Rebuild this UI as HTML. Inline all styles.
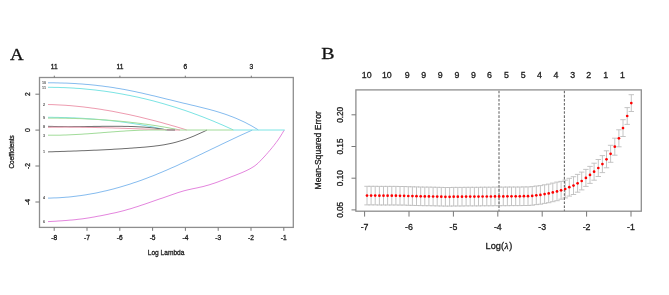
<!DOCTYPE html>
<html><head><meta charset="utf-8"><style>
html,body{margin:0;padding:0;background:#fff;}
body{width:669px;height:295px;overflow:hidden;}
svg{display:block;filter:blur(0.3px);}
text{stroke:#1a1a1a;stroke-width:0.3px;}
</style></head><body>
<svg width="669" height="295" viewBox="0 0 669 295">
<rect width="669" height="295" fill="#fff"/>
<text transform="translate(10 59.7) scale(1.08 1)" font-family="Liberation Serif, serif" font-size="17.5" fill="#111" stroke="#111" stroke-width="0.3">A</text>
<path d="M48.0 151.9 L50.0 151.8 L52.0 151.8 L54.0 151.7 L56.0 151.6 L58.0 151.6 L60.0 151.5 L62.0 151.4 L64.0 151.4 L66.0 151.3 L68.0 151.2 L70.0 151.2 L72.0 151.1 L74.0 151.0 L76.0 151.0 L78.0 150.9 L80.0 150.8 L82.0 150.7 L84.0 150.7 L86.0 150.6 L88.0 150.5 L90.0 150.4 L92.0 150.3 L94.0 150.2 L96.0 150.2 L98.0 150.1 L100.0 150.0 L102.0 149.9 L104.0 149.8 L106.0 149.7 L108.0 149.6 L110.0 149.5 L112.0 149.4 L114.0 149.2 L116.0 149.1 L118.0 149.0 L120.0 148.9 L122.0 148.8 L124.0 148.6 L126.0 148.5 L128.0 148.4 L130.0 148.2 L132.0 148.1 L134.0 147.9 L136.0 147.8 L138.0 147.6 L140.0 147.5 L142.0 147.3 L144.0 147.2 L146.0 147.0 L148.0 146.8 L150.0 146.6 L152.0 146.4 L154.0 146.2 L156.0 145.9 L158.0 145.7 L160.0 145.4 L162.0 145.1 L164.0 144.8 L166.0 144.4 L168.0 144.0 L170.0 143.6 L172.0 143.2 L174.0 142.7 L176.0 142.2 L178.0 141.6 L180.0 141.0 L182.0 140.4 L184.0 139.8 L186.0 139.1 L188.0 138.3 L190.0 137.6 L192.0 136.8 L194.0 136.0 L196.0 135.1 L198.0 134.2 L200.0 133.3 L202.0 132.4 L204.0 131.5 L206.0 130.5 L207.0 130.0" fill="none" stroke="#6e6e6e" stroke-width="1"/>
<path d="M48.0 104.5 L50.0 104.6 L52.0 104.6 L54.0 104.7 L56.0 104.8 L58.0 104.9 L60.0 105.0 L62.0 105.1 L64.0 105.2 L66.0 105.3 L68.0 105.5 L70.0 105.6 L72.0 105.8 L74.0 106.0 L76.0 106.2 L78.0 106.4 L80.0 106.6 L82.0 106.8 L84.0 107.0 L86.0 107.3 L88.0 107.5 L90.0 107.8 L92.0 108.1 L94.0 108.3 L96.0 108.6 L98.0 108.9 L100.0 109.2 L102.0 109.5 L104.0 109.9 L106.0 110.2 L108.0 110.5 L110.0 110.9 L112.0 111.2 L114.0 111.6 L116.0 112.0 L118.0 112.4 L120.0 112.8 L122.0 113.2 L124.0 113.6 L126.0 114.0 L128.0 114.4 L130.0 114.8 L132.0 115.3 L134.0 115.7 L136.0 116.2 L138.0 116.6 L140.0 117.1 L142.0 117.6 L144.0 118.1 L146.0 118.6 L148.0 119.1 L150.0 119.6 L152.0 120.1 L154.0 120.6 L156.0 121.1 L158.0 121.7 L160.0 122.2 L162.0 122.7 L164.0 123.3 L166.0 123.9 L168.0 124.4 L170.0 125.0 L172.0 125.6 L174.0 126.1 L176.0 126.7 L178.0 127.3 L180.0 127.9 L182.0 128.5 L184.0 129.1 L186.0 129.8 L186.8 130.0" fill="none" stroke="#ee9cb0" stroke-width="1"/>
<path d="M48.0 135.2 L50.0 135.2 L52.0 135.2 L54.0 135.2 L56.0 135.2 L58.0 135.2 L60.0 135.2 L62.0 135.1 L64.0 135.0 L66.0 135.0 L68.0 134.9 L70.0 134.8 L72.0 134.7 L74.0 134.6 L76.0 134.5 L78.0 134.4 L80.0 134.3 L82.0 134.2 L84.0 134.0 L86.0 133.9 L88.0 133.8 L90.0 133.6 L92.0 133.5 L94.0 133.3 L96.0 133.2 L98.0 133.0 L100.0 132.9 L102.0 132.7 L104.0 132.5 L106.0 132.4 L108.0 132.2 L110.0 132.1 L112.0 131.9 L114.0 131.8 L116.0 131.6 L118.0 131.5 L120.0 131.3 L122.0 131.2 L124.0 131.1 L126.0 130.9 L128.0 130.8 L130.0 130.7 L132.0 130.6 L134.0 130.5 L136.0 130.4 L138.0 130.3 L140.0 130.2 L142.0 130.2 L144.0 130.1 L146.0 130.1 L148.0 130.0 L150.0 130.0" fill="none" stroke="#a2dc9a" stroke-width="1"/>
<path d="M48.0 198.1 L50.0 198.1 L52.0 198.0 L54.0 197.9 L56.0 197.9 L58.0 197.8 L60.0 197.7 L62.0 197.5 L64.0 197.4 L66.0 197.2 L68.0 197.1 L70.0 196.9 L72.0 196.7 L74.0 196.4 L76.0 196.2 L78.0 195.9 L80.0 195.7 L82.0 195.4 L84.0 195.1 L86.0 194.8 L88.0 194.4 L90.0 194.1 L92.0 193.7 L94.0 193.4 L96.0 193.0 L98.0 192.6 L100.0 192.1 L102.0 191.7 L104.0 191.2 L106.0 190.8 L108.0 190.3 L110.0 189.8 L112.0 189.3 L114.0 188.8 L116.0 188.2 L118.0 187.7 L120.0 187.1 L122.0 186.5 L124.0 185.9 L126.0 185.3 L128.0 184.7 L130.0 184.1 L132.0 183.4 L134.0 182.7 L136.0 182.1 L138.0 181.4 L140.0 180.7 L142.0 180.0 L144.0 179.2 L146.0 178.5 L148.0 177.7 L150.0 176.9 L152.0 176.2 L154.0 175.4 L156.0 174.6 L158.0 173.7 L160.0 172.9 L162.0 172.1 L164.0 171.2 L166.0 170.4 L168.0 169.5 L170.0 168.6 L172.0 167.7 L174.0 166.9 L176.0 166.0 L178.0 165.1 L180.0 164.1 L182.0 163.2 L184.0 162.3 L186.0 161.4 L188.0 160.4 L190.0 159.5 L192.0 158.5 L194.0 157.6 L196.0 156.6 L198.0 155.7 L200.0 154.7 L202.0 153.8 L204.0 152.8 L206.0 151.8 L208.0 150.9 L210.0 149.9 L212.0 148.9 L214.0 148.0 L216.0 147.0 L218.0 146.1 L220.0 145.1 L222.0 144.1 L224.0 143.2 L226.0 142.2 L228.0 141.3 L230.0 140.3 L232.0 139.4 L234.0 138.4 L236.0 137.5 L238.0 136.5 L240.0 135.6 L242.0 134.7 L244.0 133.8 L246.0 132.9 L248.0 132.0 L250.0 131.1 L252.0 130.2 L252.4 130.0" fill="none" stroke="#86bcef" stroke-width="1"/>
<path d="M48.0 117.3 L50.0 117.3 L52.0 117.3 L54.0 117.4 L56.0 117.4 L58.0 117.4 L60.0 117.5 L62.0 117.5 L64.0 117.6 L66.0 117.6 L68.0 117.7 L70.0 117.8 L72.0 117.9 L74.0 117.9 L76.0 118.0 L78.0 118.1 L80.0 118.2 L82.0 118.3 L84.0 118.4 L86.0 118.6 L88.0 118.7 L90.0 118.8 L92.0 119.0 L94.0 119.1 L96.0 119.3 L98.0 119.4 L100.0 119.6 L102.0 119.8 L104.0 120.0 L106.0 120.2 L108.0 120.4 L110.0 120.6 L112.0 120.8 L114.0 121.0 L116.0 121.2 L118.0 121.5 L120.0 121.7 L122.0 122.0 L124.0 122.2 L126.0 122.5 L128.0 122.8 L130.0 123.1 L132.0 123.4 L134.0 123.7 L136.0 124.0 L138.0 124.3 L140.0 124.6 L142.0 125.0 L144.0 125.3 L146.0 125.7 L148.0 126.1 L150.0 126.4 L152.0 126.8 L154.0 127.2 L156.0 127.6 L158.0 128.1 L160.0 128.5 L162.0 128.9 L164.0 129.4 L166.0 129.8 L166.8 130.0" fill="none" stroke="#7ce4e4" stroke-width="1"/>
<path d="M48.0 221.6 L50.0 221.5 L52.0 221.4 L54.0 221.3 L56.0 221.2 L58.0 221.0 L60.0 220.9 L62.0 220.8 L64.0 220.6 L66.0 220.5 L68.0 220.3 L70.0 220.1 L72.0 220.0 L74.0 219.8 L76.0 219.6 L78.0 219.3 L80.0 219.1 L82.0 218.9 L84.0 218.6 L86.0 218.3 L88.0 218.0 L90.0 217.7 L92.0 217.3 L94.0 217.0 L96.0 216.6 L98.0 216.2 L100.0 215.9 L102.0 215.5 L104.0 215.1 L106.0 214.7 L108.0 214.3 L110.0 213.8 L112.0 213.4 L114.0 213.0 L116.0 212.6 L118.0 212.1 L120.0 211.6 L122.0 211.1 L124.0 210.6 L126.0 210.0 L128.0 209.4 L130.0 208.9 L132.0 208.3 L134.0 207.6 L136.0 207.0 L138.0 206.4 L140.0 205.7 L142.0 205.0 L144.0 204.4 L146.0 203.7 L148.0 203.0 L150.0 202.3 L152.0 201.6 L154.0 200.9 L156.0 200.2 L158.0 199.5 L160.0 198.8 L162.0 198.2 L164.0 197.5 L166.0 196.8 L168.0 196.1 L170.0 195.4 L172.0 194.7 L174.0 194.0 L176.0 193.3 L178.0 192.6 L180.0 192.0 L182.0 191.4 L184.0 190.8 L186.0 190.3 L188.0 189.8 L190.0 189.4 L192.0 188.9 L194.0 188.5 L196.0 188.1 L198.0 187.7 L200.0 187.2 L202.0 186.8 L204.0 186.3 L206.0 185.7 L208.0 185.2 L210.0 184.6 L212.0 183.9 L214.0 183.3 L216.0 182.6 L218.0 181.9 L220.0 181.1 L222.0 180.4 L224.0 179.6 L226.0 178.8 L228.0 178.1 L230.0 177.3 L232.0 176.5 L234.0 175.8 L236.0 175.0 L238.0 174.2 L240.0 173.4 L242.0 172.6 L244.0 171.7 L246.0 170.8 L248.0 169.8 L250.0 168.8 L252.0 167.6 L254.0 166.4 L256.0 164.9 L258.0 163.2 L260.0 161.2 L262.0 159.1 L264.0 157.0 L266.0 154.8 L268.0 152.5 L270.0 150.2 L272.0 147.8 L274.0 145.3 L276.0 142.7 L278.0 140.0 L280.0 137.0 L282.0 133.8 L284.0 130.4 L284.2 130.0" fill="none" stroke="#e486de" stroke-width="1"/>
<path d="M48.0 126.3 L50.0 126.4 L52.0 126.4 L54.0 126.5 L56.0 126.5 L58.0 126.6 L60.0 126.6 L62.0 126.6 L64.0 126.6 L66.0 126.6 L68.0 126.7 L70.0 126.7 L72.0 126.7 L74.0 126.6 L76.0 126.6 L78.0 126.6 L80.0 126.6 L82.0 126.6 L84.0 126.6 L86.0 126.5 L88.0 126.5 L90.0 126.5 L92.0 126.5 L94.0 126.4 L96.0 126.4 L98.0 126.4 L100.0 126.4 L102.0 126.3 L104.0 126.3 L106.0 126.3 L108.0 126.3 L110.0 126.3 L112.0 126.3 L114.0 126.3 L116.0 126.3 L118.0 126.3 L120.0 126.3 L122.0 126.3 L124.0 126.4 L126.0 126.4 L128.0 126.4 L130.0 126.5 L132.0 126.5 L134.0 126.6 L136.0 126.7 L138.0 126.8 L140.0 126.9 L142.0 127.0 L144.0 127.1 L146.0 127.3 L148.0 127.4 L150.0 127.6 L152.0 127.8 L154.0 128.0 L156.0 128.3 L158.0 128.5 L160.0 128.8 L162.0 129.1 L164.0 129.4 L166.0 129.8 L167.0 130.0" fill="none" stroke="#6e6e6e" stroke-width="1"/>
<path d="M48.0 127.3 L50.0 127.3 L52.0 127.2 L54.0 127.2 L56.0 127.2 L58.0 127.2 L60.0 127.2 L62.0 127.2 L64.0 127.1 L66.0 127.1 L68.0 127.1 L70.0 127.2 L72.0 127.2 L74.0 127.2 L76.0 127.2 L78.0 127.2 L80.0 127.2 L82.0 127.3 L84.0 127.3 L86.0 127.3 L88.0 127.4 L90.0 127.4 L92.0 127.4 L94.0 127.5 L96.0 127.5 L98.0 127.6 L100.0 127.6 L102.0 127.7 L104.0 127.7 L106.0 127.8 L108.0 127.8 L110.0 127.9 L112.0 127.9 L114.0 128.0 L116.0 128.1 L118.0 128.1 L120.0 128.2 L122.0 128.3 L124.0 128.3 L126.0 128.4 L128.0 128.5 L130.0 128.5 L132.0 128.6 L134.0 128.7 L136.0 128.7 L138.0 128.8 L140.0 128.9 L142.0 128.9 L144.0 129.0 L146.0 129.1 L148.0 129.1 L150.0 129.2 L152.0 129.3 L154.0 129.3 L156.0 129.4 L158.0 129.5 L160.0 129.5 L162.0 129.6 L164.0 129.7 L166.0 129.7 L168.0 129.8 L170.0 129.9 L172.0 129.9 L174.0 130.0 L175.0 130.0" fill="none" stroke="#ee9cb0" stroke-width="1"/>
<path d="M48.0 118.1 L50.0 118.1 L52.0 118.1 L54.0 118.1 L56.0 118.1 L58.0 118.1 L60.0 118.2 L62.0 118.2 L64.0 118.2 L66.0 118.2 L68.0 118.3 L70.0 118.3 L72.0 118.4 L74.0 118.4 L76.0 118.5 L78.0 118.6 L80.0 118.6 L82.0 118.7 L84.0 118.8 L86.0 118.9 L88.0 119.0 L90.0 119.1 L92.0 119.2 L94.0 119.3 L96.0 119.4 L98.0 119.5 L100.0 119.6 L102.0 119.8 L104.0 119.9 L106.0 120.0 L108.0 120.2 L110.0 120.3 L112.0 120.5 L114.0 120.7 L116.0 120.9 L118.0 121.0 L120.0 121.2 L122.0 121.4 L124.0 121.6 L126.0 121.8 L128.0 122.0 L130.0 122.2 L132.0 122.5 L134.0 122.7 L136.0 122.9 L138.0 123.2 L140.0 123.4 L142.0 123.7 L144.0 124.0 L146.0 124.2 L148.0 124.5 L150.0 124.8 L152.0 125.1 L154.0 125.4 L156.0 125.7 L158.0 126.0 L160.0 126.4 L162.0 126.7 L164.0 127.0 L166.0 127.4 L168.0 127.7 L170.0 128.1 L172.0 128.5 L174.0 128.8 L176.0 129.2 L178.0 129.6 L180.0 130.0" fill="none" stroke="#a2dc9a" stroke-width="1"/>
<path d="M48.0 82.8 L50.0 82.8 L52.0 82.8 L54.0 82.8 L56.0 82.9 L58.0 82.9 L60.0 83.0 L62.0 83.0 L64.0 83.1 L66.0 83.1 L68.0 83.2 L70.0 83.3 L72.0 83.4 L74.0 83.5 L76.0 83.6 L78.0 83.8 L80.0 83.9 L82.0 84.0 L84.0 84.2 L86.0 84.4 L88.0 84.5 L90.0 84.7 L92.0 84.9 L94.0 85.1 L96.0 85.3 L98.0 85.6 L100.0 85.8 L102.0 86.0 L104.0 86.3 L106.0 86.6 L108.0 86.8 L110.0 87.1 L112.0 87.4 L114.0 87.7 L116.0 88.1 L118.0 88.4 L120.0 88.7 L122.0 89.1 L124.0 89.4 L126.0 89.8 L128.0 90.2 L130.0 90.6 L132.0 91.0 L134.0 91.4 L136.0 91.8 L138.0 92.3 L140.0 92.7 L142.0 93.1 L144.0 93.6 L146.0 94.1 L148.0 94.5 L150.0 95.0 L152.0 95.5 L154.0 95.9 L156.0 96.4 L158.0 96.9 L160.0 97.4 L162.0 97.9 L164.0 98.4 L166.0 98.9 L168.0 99.4 L170.0 99.8 L172.0 100.3 L174.0 100.8 L176.0 101.3 L178.0 101.8 L180.0 102.3 L182.0 102.8 L184.0 103.3 L186.0 103.7 L188.0 104.2 L190.0 104.7 L192.0 105.2 L194.0 105.6 L196.0 106.1 L198.0 106.6 L200.0 107.1 L202.0 107.6 L204.0 108.1 L206.0 108.6 L208.0 109.1 L210.0 109.6 L212.0 110.2 L214.0 110.7 L216.0 111.3 L218.0 111.9 L220.0 112.5 L222.0 113.2 L224.0 113.8 L226.0 114.5 L228.0 115.2 L230.0 116.0 L232.0 116.7 L234.0 117.5 L236.0 118.3 L238.0 119.2 L240.0 120.1 L242.0 121.0 L244.0 121.9 L246.0 122.9 L248.0 124.0 L250.0 125.0 L252.0 126.1 L254.0 127.3 L256.0 128.5 L258.0 129.7 L258.4 130.0" fill="none" stroke="#86bcef" stroke-width="1"/>
<path d="M48.0 87.3 L50.0 87.3 L52.0 87.3 L54.0 87.4 L56.0 87.4 L58.0 87.4 L60.0 87.5 L62.0 87.6 L64.0 87.6 L66.0 87.7 L68.0 87.8 L70.0 87.9 L72.0 88.0 L74.0 88.1 L76.0 88.3 L78.0 88.4 L80.0 88.5 L82.0 88.7 L84.0 88.9 L86.0 89.1 L88.0 89.3 L90.0 89.5 L92.0 89.7 L94.0 89.9 L96.0 90.1 L98.0 90.4 L100.0 90.6 L102.0 90.9 L104.0 91.1 L106.0 91.4 L108.0 91.7 L110.0 92.0 L112.0 92.3 L114.0 92.6 L116.0 93.0 L118.0 93.3 L120.0 93.7 L122.0 94.0 L124.0 94.4 L126.0 94.8 L128.0 95.2 L130.0 95.5 L132.0 96.0 L134.0 96.4 L136.0 96.8 L138.0 97.2 L140.0 97.7 L142.0 98.2 L144.0 98.6 L146.0 99.1 L148.0 99.6 L150.0 100.1 L152.0 100.6 L154.0 101.1 L156.0 101.7 L158.0 102.2 L160.0 102.8 L162.0 103.3 L164.0 103.9 L166.0 104.5 L168.0 105.1 L170.0 105.7 L172.0 106.3 L174.0 106.9 L176.0 107.5 L178.0 108.2 L180.0 108.8 L182.0 109.5 L184.0 110.1 L186.0 110.8 L188.0 111.5 L190.0 112.2 L192.0 112.9 L194.0 113.7 L196.0 114.4 L198.0 115.1 L200.0 115.9 L202.0 116.6 L204.0 117.4 L206.0 118.2 L208.0 119.0 L210.0 119.8 L212.0 120.6 L214.0 121.4 L216.0 122.3 L218.0 123.1 L220.0 124.0 L222.0 124.8 L224.0 125.7 L226.0 126.6 L228.0 127.5 L230.0 128.4 L232.0 129.3 L233.5 130.0" fill="none" stroke="#7ce4e4" stroke-width="1"/>
<path d="M150.0 130.0H166.8" fill="none" stroke="#a2dc9a" stroke-width="1"/>
<path d="M166.8 130.0H167.0" fill="none" stroke="#7ce4e4" stroke-width="1"/>
<path d="M167.0 130.0H175.0" fill="none" stroke="#6e6e6e" stroke-width="1"/>
<path d="M175.0 130.0H180.0" fill="none" stroke="#ee9cb0" stroke-width="1"/>
<path d="M180.0 130.0H186.8" fill="none" stroke="#a2dc9a" stroke-width="1"/>
<path d="M186.8 130.0H207.0" fill="none" stroke="#a2dc9a" stroke-width="1"/>
<path d="M207.0 130.0H233.5" fill="none" stroke="#a2dc9a" stroke-width="1"/>
<path d="M233.5 130.0H252.4" fill="none" stroke="#7ce4e4" stroke-width="1"/>
<path d="M252.4 130.0H258.4" fill="none" stroke="#7ce4e4" stroke-width="1"/>
<path d="M258.4 130.0H284.2" fill="none" stroke="#7ce4e4" stroke-width="1"/>
<path d="M284.2 130.0H284.8" fill="none" stroke="#7ce4e4" stroke-width="1"/>
<rect x="39.5" y="77.5" width="253.8" height="149.9" fill="none" stroke="#8e8e8e" stroke-width="1.3"/>
<line x1="54.2" y1="227.4" x2="54.2" y2="230.8" stroke="#777" stroke-width="1"/>
<text x="54.2" y="240.2" text-anchor="middle" font-family="Liberation Sans, sans-serif" font-size="6.6" fill="#222">-8</text>
<line x1="87.0" y1="227.4" x2="87.0" y2="230.8" stroke="#777" stroke-width="1"/>
<text x="87.0" y="240.2" text-anchor="middle" font-family="Liberation Sans, sans-serif" font-size="6.6" fill="#222">-7</text>
<line x1="119.8" y1="227.4" x2="119.8" y2="230.8" stroke="#777" stroke-width="1"/>
<text x="119.8" y="240.2" text-anchor="middle" font-family="Liberation Sans, sans-serif" font-size="6.6" fill="#222">-6</text>
<line x1="152.6" y1="227.4" x2="152.6" y2="230.8" stroke="#777" stroke-width="1"/>
<text x="152.6" y="240.2" text-anchor="middle" font-family="Liberation Sans, sans-serif" font-size="6.6" fill="#222">-5</text>
<line x1="185.4" y1="227.4" x2="185.4" y2="230.8" stroke="#777" stroke-width="1"/>
<text x="185.4" y="240.2" text-anchor="middle" font-family="Liberation Sans, sans-serif" font-size="6.6" fill="#222">-4</text>
<line x1="218.2" y1="227.4" x2="218.2" y2="230.8" stroke="#777" stroke-width="1"/>
<text x="218.2" y="240.2" text-anchor="middle" font-family="Liberation Sans, sans-serif" font-size="6.6" fill="#222">-3</text>
<line x1="251.0" y1="227.4" x2="251.0" y2="230.8" stroke="#777" stroke-width="1"/>
<text x="251.0" y="240.2" text-anchor="middle" font-family="Liberation Sans, sans-serif" font-size="6.6" fill="#222">-2</text>
<line x1="283.8" y1="227.4" x2="283.8" y2="230.8" stroke="#777" stroke-width="1"/>
<text x="283.8" y="240.2" text-anchor="middle" font-family="Liberation Sans, sans-serif" font-size="6.6" fill="#222">-1</text>
<line x1="54.3" y1="75.7" x2="54.3" y2="77.5" stroke="#777" stroke-width="1"/>
<text x="54.3" y="69.2" text-anchor="middle" font-family="Liberation Sans, sans-serif" font-size="6.6" fill="#222">11</text>
<line x1="119.9" y1="75.7" x2="119.9" y2="77.5" stroke="#777" stroke-width="1"/>
<text x="119.9" y="69.2" text-anchor="middle" font-family="Liberation Sans, sans-serif" font-size="6.6" fill="#222">11</text>
<line x1="185.3" y1="75.7" x2="185.3" y2="77.5" stroke="#777" stroke-width="1"/>
<text x="185.3" y="69.2" text-anchor="middle" font-family="Liberation Sans, sans-serif" font-size="6.6" fill="#222">6</text>
<line x1="251.3" y1="75.7" x2="251.3" y2="77.5" stroke="#777" stroke-width="1"/>
<text x="251.3" y="69.2" text-anchor="middle" font-family="Liberation Sans, sans-serif" font-size="6.6" fill="#222">3</text>
<line x1="35.4" y1="94.2" x2="39.5" y2="94.2" stroke="#777" stroke-width="1"/>
<text transform="translate(29.9 94.2) rotate(-90)" text-anchor="middle" font-family="Liberation Sans, sans-serif" font-size="6.8" fill="#222">2</text>
<line x1="35.4" y1="130.1" x2="39.5" y2="130.1" stroke="#777" stroke-width="1"/>
<text transform="translate(29.9 130.1) rotate(-90)" text-anchor="middle" font-family="Liberation Sans, sans-serif" font-size="6.8" fill="#222">0</text>
<line x1="35.4" y1="166.0" x2="39.5" y2="166.0" stroke="#777" stroke-width="1"/>
<text transform="translate(29.9 166.0) rotate(-90)" text-anchor="middle" font-family="Liberation Sans, sans-serif" font-size="6.8" fill="#222">-2</text>
<line x1="35.4" y1="202.0" x2="39.5" y2="202.0" stroke="#777" stroke-width="1"/>
<text transform="translate(29.9 202.0) rotate(-90)" text-anchor="middle" font-family="Liberation Sans, sans-serif" font-size="6.8" fill="#222">-4</text>
<text x="166.1" y="254.6" text-anchor="middle" font-family="Liberation Sans, sans-serif" font-size="6.6" fill="#333">Log Lambda</text>
<text transform="translate(14.4 151.9) rotate(-90)" text-anchor="middle" font-family="Liberation Sans, sans-serif" font-size="6.4" fill="#222">Coefficients</text>
<text x="44" y="84.1" text-anchor="middle" font-family="Liberation Sans, sans-serif" font-size="3.6" font-weight="bold" fill="#444" style="stroke:none">10</text>
<text x="44" y="88.6" text-anchor="middle" font-family="Liberation Sans, sans-serif" font-size="3.6" font-weight="bold" fill="#444" style="stroke:none">11</text>
<text x="44" y="105.8" text-anchor="middle" font-family="Liberation Sans, sans-serif" font-size="3.6" font-weight="bold" fill="#444" style="stroke:none">2</text>
<text x="44" y="118.9" text-anchor="middle" font-family="Liberation Sans, sans-serif" font-size="3.6" font-weight="bold" fill="#444" style="stroke:none">9</text>
<text x="44" y="128.1" text-anchor="middle" font-family="Liberation Sans, sans-serif" font-size="3.6" font-weight="bold" fill="#444" style="stroke:none">8</text>
<text x="44" y="136.5" text-anchor="middle" font-family="Liberation Sans, sans-serif" font-size="3.6" font-weight="bold" fill="#444" style="stroke:none">3</text>
<text x="44" y="153.2" text-anchor="middle" font-family="Liberation Sans, sans-serif" font-size="3.6" font-weight="bold" fill="#444" style="stroke:none">1</text>
<text x="44" y="199.2" text-anchor="middle" font-family="Liberation Sans, sans-serif" font-size="3.6" font-weight="bold" fill="#444" style="stroke:none">4</text>
<text x="44" y="222.6" text-anchor="middle" font-family="Liberation Sans, sans-serif" font-size="3.6" font-weight="bold" fill="#444" style="stroke:none">6</text>
<text transform="translate(321.2 58.8) scale(1.17 1)" font-family="Liberation Serif, serif" font-size="17" fill="#111" stroke="#111" stroke-width="0.3">B</text>
<path d="M631.3 94.7V111.5M628.6 94.7H634.0M628.6 111.5H634.0M627.2 107.6V124.4M624.5 107.6H629.9M624.5 124.4H629.9M623.0 119.7V136.5M620.3 119.7H625.7M620.3 136.5H625.7M618.9 129.8V146.8M616.2 129.8H621.6M616.2 146.8H621.6M614.8 138.2V155.2M612.1 138.2H617.5M612.1 155.2H617.5M610.6 145.3V162.3M607.9 145.3H613.4M607.9 162.3H613.4M606.5 150.8V167.8M603.8 150.8H609.2M603.8 167.8H609.2M602.4 155.6V172.6M599.7 155.6H605.1M599.7 172.6H605.1M598.3 159.5V176.5M595.6 159.5H601.0M595.6 176.5H601.0M594.1 163.2V180.2M591.4 163.2H596.8M591.4 180.2H596.8M590.0 166.4V183.4M587.3 166.4H592.7M587.3 183.4H592.7M585.9 169.4V186.4M583.2 169.4H588.6M583.2 186.4H588.6M581.7 172.1V189.9M579.0 172.1H584.4M579.0 189.9H584.4M577.6 174.4V192.2M574.9 174.4H580.3M574.9 192.2H580.3M573.5 176.7V194.5M570.8 176.7H576.2M570.8 194.5H576.2M569.3 178.3V196.1M566.6 178.3H572.0M566.6 196.1H572.0M565.2 180.1V197.9M562.5 180.1H567.9M562.5 197.9H567.9M561.1 181.4V199.2M558.4 181.4H563.8M558.4 199.2H563.8M557.0 182.1V200.7M554.3 182.1H559.7M554.3 200.7H559.7M552.8 183.1V201.7M550.1 183.1H555.5M550.1 201.7H555.5M548.7 184.1V202.7M546.0 184.1H551.4M546.0 202.7H551.4M544.6 184.8V203.4M541.9 184.8H547.3M541.9 203.4H547.3M540.4 185.6V204.2M537.7 185.6H543.1M537.7 204.2H543.1M536.3 186.0V204.6M533.6 186.0H539.0M533.6 204.6H539.0M532.2 186.6V205.2M529.5 186.6H534.9M529.5 205.2H534.9M528.0 186.9V205.5M525.3 186.9H530.8M525.3 205.5H530.8M523.9 186.9V205.5M521.2 186.9H526.6M521.2 205.5H526.6M519.8 187.0V205.6M517.1 187.0H522.5M517.1 205.6H522.5M515.7 187.0V205.6M513.0 187.0H518.4M513.0 205.6H518.4M511.5 187.0V205.6M508.8 187.0H514.2M508.8 205.6H514.2M507.4 187.0V205.7M504.7 187.0H510.1M504.7 205.7H510.1M503.3 187.1V205.7M500.6 187.1H506.0M500.6 205.7H506.0M499.1 187.1V205.7M496.4 187.1H501.8M496.4 205.7H501.8M495.0 187.1V205.7M492.3 187.1H497.7M492.3 205.7H497.7M490.9 187.2V205.8M488.2 187.2H493.6M488.2 205.8H493.6M486.8 187.2V205.8M484.1 187.2H489.4M484.1 205.8H489.4M482.6 187.2V205.8M479.9 187.2H485.3M479.9 205.8H485.3M478.5 187.3V205.9M475.8 187.3H481.2M475.8 205.9H481.2M474.4 187.3V205.9M471.7 187.3H477.1M471.7 205.9H477.1M470.2 187.3V205.9M467.5 187.3H472.9M467.5 205.9H472.9M466.1 187.3V205.9M463.4 187.3H468.8M463.4 205.9H468.8M462.0 187.4V206.0M459.3 187.4H464.7M459.3 206.0H464.7M457.8 187.4V206.0M455.1 187.4H460.5M455.1 206.0H460.5M453.7 187.4V206.0M451.0 187.4H456.4M451.0 206.0H456.4M449.6 187.5V206.1M446.9 187.5H452.3M446.9 206.1H452.3M445.4 187.5V206.1M442.7 187.5H448.1M442.7 206.1H448.1M441.3 187.4V206.0M438.6 187.4H444.0M438.6 206.0H444.0M437.2 187.3V205.9M434.5 187.3H439.9M434.5 205.9H439.9M433.1 187.2V205.8M430.4 187.2H435.8M430.4 205.8H435.8M428.9 187.1V205.7M426.2 187.1H431.6M426.2 205.7H431.6M424.8 187.1V205.7M422.1 187.1H427.5M422.1 205.7H427.5M420.7 187.0V205.6M418.0 187.0H423.4M418.0 205.6H423.4M416.5 186.9V205.5M413.8 186.9H419.2M413.8 205.5H419.2M412.4 186.8V205.4M409.7 186.8H415.1M409.7 205.4H415.1M408.3 186.7V205.3M405.6 186.7H411.0M405.6 205.3H411.0M404.1 186.5V205.1M401.4 186.5H406.8M401.4 205.1H406.8M400.0 186.5V205.1M397.3 186.5H402.7M397.3 205.1H402.7M395.9 186.4V205.0M393.2 186.4H398.6M393.2 205.0H398.6M391.8 186.4V205.0M389.1 186.4H394.5M389.1 205.0H394.5M387.6 186.4V205.0M384.9 186.4H390.3M384.9 205.0H390.3M383.5 186.4V205.0M380.8 186.4H386.2M380.8 205.0H386.2M379.4 186.4V205.0M376.7 186.4H382.1M376.7 205.0H382.1M375.2 186.3V204.9M372.5 186.3H377.9M372.5 204.9H377.9M371.1 186.3V204.9M368.4 186.3H373.8M368.4 204.9H373.8M367.0 186.3V204.9M364.3 186.3H369.7M364.3 204.9H369.7" fill="none" stroke="#bdbdbd" stroke-width="0.9"/>
<line x1="499.0" y1="90.7" x2="499.0" y2="211.2" stroke="#6a6a6a" stroke-width="1.1" stroke-dasharray="2.6 1.5"/>
<line x1="564.4" y1="90.7" x2="564.4" y2="211.2" stroke="#6a6a6a" stroke-width="1.1" stroke-dasharray="2.6 1.5"/>
<circle cx="631.3" cy="103.1" r="1.35" fill="#f00"/>
<circle cx="627.2" cy="116.0" r="1.35" fill="#f00"/>
<circle cx="623.0" cy="128.1" r="1.35" fill="#f00"/>
<circle cx="618.9" cy="138.3" r="1.35" fill="#f00"/>
<circle cx="614.8" cy="146.7" r="1.35" fill="#f00"/>
<circle cx="610.6" cy="153.8" r="1.35" fill="#f00"/>
<circle cx="606.5" cy="159.3" r="1.35" fill="#f00"/>
<circle cx="602.4" cy="164.1" r="1.35" fill="#f00"/>
<circle cx="598.3" cy="168.0" r="1.35" fill="#f00"/>
<circle cx="594.1" cy="171.7" r="1.35" fill="#f00"/>
<circle cx="590.0" cy="174.9" r="1.35" fill="#f00"/>
<circle cx="585.9" cy="177.9" r="1.35" fill="#f00"/>
<circle cx="581.7" cy="181.0" r="1.35" fill="#f00"/>
<circle cx="577.6" cy="183.3" r="1.35" fill="#f00"/>
<circle cx="573.5" cy="185.6" r="1.35" fill="#f00"/>
<circle cx="569.3" cy="187.2" r="1.35" fill="#f00"/>
<circle cx="565.2" cy="189.0" r="1.35" fill="#f00"/>
<circle cx="561.1" cy="190.3" r="1.35" fill="#f00"/>
<circle cx="557.0" cy="191.4" r="1.35" fill="#f00"/>
<circle cx="552.8" cy="192.4" r="1.35" fill="#f00"/>
<circle cx="548.7" cy="193.4" r="1.35" fill="#f00"/>
<circle cx="544.6" cy="194.1" r="1.35" fill="#f00"/>
<circle cx="540.4" cy="194.9" r="1.35" fill="#f00"/>
<circle cx="536.3" cy="195.3" r="1.35" fill="#f00"/>
<circle cx="532.2" cy="195.9" r="1.35" fill="#f00"/>
<circle cx="528.0" cy="196.2" r="1.35" fill="#f00"/>
<circle cx="523.9" cy="196.2" r="1.35" fill="#f00"/>
<circle cx="519.8" cy="196.3" r="1.35" fill="#f00"/>
<circle cx="515.7" cy="196.3" r="1.35" fill="#f00"/>
<circle cx="511.5" cy="196.3" r="1.35" fill="#f00"/>
<circle cx="507.4" cy="196.3" r="1.35" fill="#f00"/>
<circle cx="503.3" cy="196.4" r="1.35" fill="#f00"/>
<circle cx="499.1" cy="196.4" r="1.35" fill="#f00"/>
<circle cx="495.0" cy="196.4" r="1.35" fill="#f00"/>
<circle cx="490.9" cy="196.5" r="1.35" fill="#f00"/>
<circle cx="486.8" cy="196.5" r="1.35" fill="#f00"/>
<circle cx="482.6" cy="196.5" r="1.35" fill="#f00"/>
<circle cx="478.5" cy="196.6" r="1.35" fill="#f00"/>
<circle cx="474.4" cy="196.6" r="1.35" fill="#f00"/>
<circle cx="470.2" cy="196.6" r="1.35" fill="#f00"/>
<circle cx="466.1" cy="196.6" r="1.35" fill="#f00"/>
<circle cx="462.0" cy="196.7" r="1.35" fill="#f00"/>
<circle cx="457.8" cy="196.7" r="1.35" fill="#f00"/>
<circle cx="453.7" cy="196.7" r="1.35" fill="#f00"/>
<circle cx="449.6" cy="196.8" r="1.35" fill="#f00"/>
<circle cx="445.4" cy="196.8" r="1.35" fill="#f00"/>
<circle cx="441.3" cy="196.7" r="1.35" fill="#f00"/>
<circle cx="437.2" cy="196.6" r="1.35" fill="#f00"/>
<circle cx="433.1" cy="196.5" r="1.35" fill="#f00"/>
<circle cx="428.9" cy="196.4" r="1.35" fill="#f00"/>
<circle cx="424.8" cy="196.4" r="1.35" fill="#f00"/>
<circle cx="420.7" cy="196.3" r="1.35" fill="#f00"/>
<circle cx="416.5" cy="196.2" r="1.35" fill="#f00"/>
<circle cx="412.4" cy="196.1" r="1.35" fill="#f00"/>
<circle cx="408.3" cy="196.0" r="1.35" fill="#f00"/>
<circle cx="404.1" cy="195.8" r="1.35" fill="#f00"/>
<circle cx="400.0" cy="195.8" r="1.35" fill="#f00"/>
<circle cx="395.9" cy="195.7" r="1.35" fill="#f00"/>
<circle cx="391.8" cy="195.7" r="1.35" fill="#f00"/>
<circle cx="387.6" cy="195.7" r="1.35" fill="#f00"/>
<circle cx="383.5" cy="195.7" r="1.35" fill="#f00"/>
<circle cx="379.4" cy="195.7" r="1.35" fill="#f00"/>
<circle cx="375.2" cy="195.6" r="1.35" fill="#f00"/>
<circle cx="371.1" cy="195.6" r="1.35" fill="#f00"/>
<circle cx="367.0" cy="195.6" r="1.35" fill="#f00"/>
<rect x="355.9" y="89.9" width="285.4" height="121.3" fill="none" stroke="#8e8e8e" stroke-width="1.3"/>
<line x1="364.6" y1="211.2" x2="364.6" y2="216.6" stroke="#777" stroke-width="1"/>
<text x="364.6" y="230.0" text-anchor="middle" font-family="Liberation Sans, sans-serif" font-size="8.8" fill="#222">-7</text>
<line x1="409.0" y1="211.2" x2="409.0" y2="216.6" stroke="#777" stroke-width="1"/>
<text x="409.0" y="230.0" text-anchor="middle" font-family="Liberation Sans, sans-serif" font-size="8.8" fill="#222">-6</text>
<line x1="453.4" y1="211.2" x2="453.4" y2="216.6" stroke="#777" stroke-width="1"/>
<text x="453.4" y="230.0" text-anchor="middle" font-family="Liberation Sans, sans-serif" font-size="8.8" fill="#222">-5</text>
<line x1="497.8" y1="211.2" x2="497.8" y2="216.6" stroke="#777" stroke-width="1"/>
<text x="497.8" y="230.0" text-anchor="middle" font-family="Liberation Sans, sans-serif" font-size="8.8" fill="#222">-4</text>
<line x1="542.2" y1="211.2" x2="542.2" y2="216.6" stroke="#777" stroke-width="1"/>
<text x="542.2" y="230.0" text-anchor="middle" font-family="Liberation Sans, sans-serif" font-size="8.8" fill="#222">-3</text>
<line x1="586.6" y1="211.2" x2="586.6" y2="216.6" stroke="#777" stroke-width="1"/>
<text x="586.6" y="230.0" text-anchor="middle" font-family="Liberation Sans, sans-serif" font-size="8.8" fill="#222">-2</text>
<line x1="631.0" y1="211.2" x2="631.0" y2="216.6" stroke="#777" stroke-width="1"/>
<text x="631.0" y="230.0" text-anchor="middle" font-family="Liberation Sans, sans-serif" font-size="8.8" fill="#222">-1</text>
<line x1="351.5" y1="114.8" x2="355.9" y2="114.8" stroke="#777" stroke-width="1"/>
<text transform="translate(342.6 114.8) rotate(-90)" text-anchor="middle" font-family="Liberation Sans, sans-serif" font-size="8.2" fill="#222">0.20</text>
<line x1="351.5" y1="146.5" x2="355.9" y2="146.5" stroke="#777" stroke-width="1"/>
<text transform="translate(342.6 146.5) rotate(-90)" text-anchor="middle" font-family="Liberation Sans, sans-serif" font-size="8.2" fill="#222">0.15</text>
<line x1="351.5" y1="178.2" x2="355.9" y2="178.2" stroke="#777" stroke-width="1"/>
<text transform="translate(342.6 178.2) rotate(-90)" text-anchor="middle" font-family="Liberation Sans, sans-serif" font-size="8.2" fill="#222">0.10</text>
<line x1="351.5" y1="209.9" x2="355.9" y2="209.9" stroke="#777" stroke-width="1"/>
<text transform="translate(342.6 209.9) rotate(-90)" text-anchor="middle" font-family="Liberation Sans, sans-serif" font-size="8.2" fill="#222">0.05</text>
<text x="366.7" y="78.1" text-anchor="middle" font-family="Liberation Sans, sans-serif" font-size="8.8" fill="#222">10</text>
<text x="386.8" y="78.1" text-anchor="middle" font-family="Liberation Sans, sans-serif" font-size="8.8" fill="#222">10</text>
<text x="407.2" y="78.1" text-anchor="middle" font-family="Liberation Sans, sans-serif" font-size="8.8" fill="#222">9</text>
<text x="423.8" y="78.1" text-anchor="middle" font-family="Liberation Sans, sans-serif" font-size="8.8" fill="#222">9</text>
<text x="440.2" y="78.1" text-anchor="middle" font-family="Liberation Sans, sans-serif" font-size="8.8" fill="#222">9</text>
<text x="457.0" y="78.1" text-anchor="middle" font-family="Liberation Sans, sans-serif" font-size="8.8" fill="#222">9</text>
<text x="473.4" y="78.1" text-anchor="middle" font-family="Liberation Sans, sans-serif" font-size="8.8" fill="#222">9</text>
<text x="489.4" y="78.1" text-anchor="middle" font-family="Liberation Sans, sans-serif" font-size="8.8" fill="#222">6</text>
<text x="506.5" y="78.1" text-anchor="middle" font-family="Liberation Sans, sans-serif" font-size="8.8" fill="#222">5</text>
<text x="523.3" y="78.1" text-anchor="middle" font-family="Liberation Sans, sans-serif" font-size="8.8" fill="#222">5</text>
<text x="539.5" y="78.1" text-anchor="middle" font-family="Liberation Sans, sans-serif" font-size="8.8" fill="#222">4</text>
<text x="556.0" y="78.1" text-anchor="middle" font-family="Liberation Sans, sans-serif" font-size="8.8" fill="#222">4</text>
<text x="572.8" y="78.1" text-anchor="middle" font-family="Liberation Sans, sans-serif" font-size="8.8" fill="#222">3</text>
<text x="588.6" y="78.1" text-anchor="middle" font-family="Liberation Sans, sans-serif" font-size="8.8" fill="#222">2</text>
<text x="605.6" y="78.1" text-anchor="middle" font-family="Liberation Sans, sans-serif" font-size="8.8" fill="#222">1</text>
<text x="622.5" y="78.1" text-anchor="middle" font-family="Liberation Sans, sans-serif" font-size="8.8" fill="#222">1</text>
<text transform="translate(321.2 150.3) rotate(-90)" text-anchor="middle" font-family="Liberation Sans, sans-serif" font-size="8.6" fill="#222">Mean-Squared Error</text>
<text x="499" y="248.6" text-anchor="middle" font-family="Liberation Sans, sans-serif" font-size="9.2" fill="#222">Log(<tspan dx="0.6" font-family="Liberation Serif, serif" font-style="italic">λ</tspan><tspan dx="0.8">)</tspan></text>
</svg>
</body></html>
